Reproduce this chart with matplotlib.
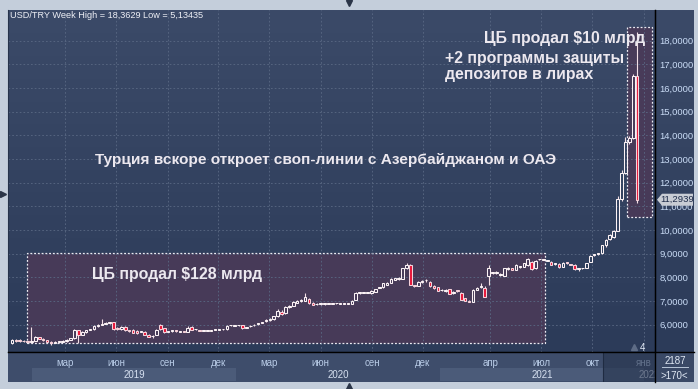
import numpy as np
import pandas as pd
import matplotlib
matplotlib.use("Agg")
import matplotlib.pyplot as plt
import matplotlib.dates as mdates
from matplotlib.patches import Rectangle, Polygon
from matplotlib.lines import Line2D
from matplotlib.colors import LinearSegmentedColormap, to_rgba

plt.rcParams['font.family'] = ['Liberation Sans', 'DejaVu Sans']

# USD/TRY weekly candles
weeks = pd.date_range('2018-11-26', '2021-12-20', freq='W-MON')

opens = [
    5.24, 5.36, 5.35, 5.31, 5.30, 5.29, 5.33, 5.48, 5.42, 5.35,
    5.28, 5.25, 5.27, 5.28, 5.31, 5.37, 5.43, 5.76, 5.58, 5.69,
    5.78, 5.82, 5.95, 5.99, 6.05, 6.07, 6.10, 5.84, 5.82, 5.92,
    5.76, 5.78, 5.74, 5.70, 5.71, 5.57, 5.51, 5.57, 6.00, 5.85,
    5.71, 5.73, 5.74, 5.71, 5.71, 5.71, 5.92, 5.81, 5.77, 5.75,
    5.75, 5.75, 5.78, 5.78, 5.81, 5.82, 5.97, 5.95, 5.97, 5.99,
    5.88, 5.93, 5.98, 6.03, 6.08, 6.14, 6.22, 6.25, 6.35, 6.56,
    6.48, 6.74, 6.80, 6.92, 7.02, 7.02, 7.08, 6.94, 6.86, 6.88,
    6.87, 6.88, 6.88, 6.91, 6.89, 6.89, 6.88, 6.88, 7.05, 7.34,
    7.35, 7.36, 7.33, 7.40, 7.55, 7.58, 7.68, 7.78, 7.90, 7.95,
    7.94, 8.39, 8.53, 7.66, 7.64, 7.82, 7.88, 7.82, 7.64, 7.58,
    7.46, 7.44, 7.50, 7.34, 7.44, 7.36, 7.12, 7.00, 6.98, 7.48,
    7.60, 7.54, 8.06, 8.20, 8.20, 8.10, 8.06, 8.36, 8.39, 8.32,
    8.45, 8.46, 8.53, 8.67, 8.39, 8.76, 8.74, 8.71, 8.67, 8.57,
    8.57, 8.45, 8.63, 8.55, 8.53, 8.35, 8.38, 8.40, 8.67, 8.95,
    8.97, 9.05, 9.35, 9.62, 9.72, 9.97, 11.32, 12.40, 13.72, 13.90, 16.50,
]
highs = [
    5.38, 5.40, 5.38, 5.34, 5.33, 5.92, 5.52, 5.50, 5.45, 5.36,
    5.30, 5.30, 5.31, 5.34, 5.40, 5.46, 5.84, 5.80, 5.72, 5.80,
    5.84, 5.98, 6.05, 6.23, 6.12, 6.12, 6.12, 5.92, 5.95, 5.94,
    5.80, 5.82, 5.77, 5.74, 5.73, 5.60, 5.58, 5.83, 6.02, 5.88,
    5.74, 5.76, 5.76, 5.73, 5.74, 5.95, 5.95, 5.83, 5.79, 5.77,
    5.77, 5.77, 5.80, 5.80, 5.84, 5.98, 6.01, 5.99, 5.99, 6.01,
    5.92, 5.97, 6.02, 6.07, 6.12, 6.24, 6.28, 6.38, 6.65, 6.62,
    6.78, 6.84, 7.00, 7.05, 7.08, 7.33, 7.12, 6.96, 6.90, 6.90,
    6.90, 6.90, 6.91, 6.93, 6.91, 6.91, 6.90, 7.05, 7.40, 7.38,
    7.38, 7.40, 7.46, 7.52, 7.60, 7.77, 7.80, 7.96, 7.98, 8.02,
    8.41, 8.63, 8.56, 7.70, 7.86, 7.90, 7.94, 7.86, 7.66, 7.60,
    7.52, 7.50, 7.52, 7.42, 7.48, 7.38, 7.14, 7.04, 7.50, 7.58,
    7.78, 7.62, 8.53, 8.25, 8.26, 8.18, 8.42, 8.45, 8.42, 8.55,
    8.50, 8.62, 8.82, 8.70, 8.73, 8.80, 8.80, 8.74, 8.70, 8.60,
    8.60, 8.65, 8.66, 8.58, 8.56, 8.38, 8.42, 8.62, 8.93, 8.98,
    9.05, 9.38, 9.62, 9.85, 9.99, 11.45, 12.55, 13.95, 13.98, 16.60, 18.36,
]
lows = [
    5.20, 5.28, 5.28, 5.27, 5.26, 5.25, 5.30, 5.38, 5.32, 5.24,
    5.13, 5.22, 5.24, 5.26, 5.29, 5.35, 5.41, 5.22, 5.55, 5.66,
    5.76, 5.80, 5.92, 5.97, 6.02, 6.04, 5.80, 5.76, 5.80, 5.72,
    5.70, 5.64, 5.62, 5.68, 5.55, 5.47, 5.46, 5.55, 5.78, 5.66,
    5.68, 5.71, 5.71, 5.69, 5.68, 5.69, 5.76, 5.78, 5.73, 5.73,
    5.73, 5.73, 5.76, 5.76, 5.78, 5.80, 5.95, 5.93, 5.94, 5.84,
    5.86, 5.91, 5.96, 6.01, 6.06, 6.12, 6.14, 6.22, 6.33, 6.40,
    6.46, 6.70, 6.78, 6.90, 6.98, 7.00, 6.88, 6.82, 6.84, 6.84,
    6.84, 6.86, 6.86, 6.89, 6.87, 6.87, 6.86, 6.86, 7.03, 7.32,
    7.33, 7.33, 7.32, 7.39, 7.54, 7.56, 7.66, 7.76, 7.88, 7.88,
    7.92, 8.37, 7.66, 7.58, 7.62, 7.78, 7.80, 7.60, 7.52, 7.42,
    7.42, 7.40, 7.28, 7.32, 7.38, 7.04, 7.00, 6.95, 6.96, 7.46,
    7.56, 7.17, 7.68, 8.15, 8.14, 8.04, 8.04, 8.32, 8.30, 8.30,
    8.42, 8.44, 8.50, 8.33, 8.37, 8.73, 8.72, 8.68, 8.51, 8.54,
    8.41, 8.43, 8.58, 8.51, 8.33, 8.28, 8.35, 8.38, 8.65, 8.90,
    8.95, 9.00, 9.30, 9.58, 9.68, 9.95, 11.25, 12.35, 13.65, 13.85, 11.13,
]
closes = [
    5.36, 5.33, 5.31, 5.30, 5.29, 5.33, 5.48, 5.42, 5.35, 5.28,
    5.25, 5.27, 5.28, 5.31, 5.37, 5.43, 5.79, 5.58, 5.69, 5.78,
    5.82, 5.95, 5.99, 6.05, 6.07, 6.08, 5.84, 5.82, 5.92, 5.76,
    5.72, 5.67, 5.65, 5.71, 5.57, 5.50, 5.53, 5.80, 5.81, 5.68,
    5.71, 5.74, 5.73, 5.71, 5.70, 5.88, 5.78, 5.81, 5.75, 5.75,
    5.75, 5.75, 5.78, 5.78, 5.82, 5.95, 5.99, 5.96, 5.97, 5.86,
    5.90, 5.95, 6.00, 6.05, 6.10, 6.20, 6.25, 6.35, 6.58, 6.46,
    6.74, 6.80, 6.98, 7.02, 7.05, 7.16, 6.90, 6.84, 6.88, 6.88,
    6.87, 6.88, 6.89, 6.91, 6.89, 6.89, 6.88, 7.02, 7.36, 7.35,
    7.36, 7.37, 7.44, 7.50, 7.58, 7.75, 7.78, 7.94, 7.96, 7.96,
    8.39, 8.53, 7.68, 7.63, 7.82, 7.83, 7.89, 7.62, 7.54, 7.44,
    7.47, 7.44, 7.30, 7.40, 7.42, 7.06, 7.02, 6.98, 7.47, 7.54,
    7.61, 7.19, 8.39, 8.20, 8.20, 8.10, 8.39, 8.40, 8.32, 8.53,
    8.46, 8.60, 8.77, 8.35, 8.71, 8.77, 8.76, 8.71, 8.53, 8.57,
    8.43, 8.63, 8.61, 8.53, 8.35, 8.35, 8.39, 8.60, 8.91, 8.95,
    9.03, 9.35, 9.60, 9.80, 9.97, 11.32, 12.40, 13.72, 13.90, 16.50, 11.29,
]

y_ticks = list(range(6, 19))
month_ticks = ['2019-03-01', '2019-06-01', '2019-09-01', '2019-12-01',
               '2020-03-01', '2020-06-01', '2020-09-01', '2020-12-01',
               '2021-04-01', '2021-07-01', '2021-10-01', '2022-01-01']
month_labels = ['мар', 'июн', 'сен', 'дек', 'мар', 'июн', 'сен', 'дек',
                'апр', 'июл', 'окт', 'янв']
years = ['2019', '2020', '2021', '2022']
year_starts = ['2019-01-01', '2020-01-01', '2021-01-01', '2022-01-01', '2023-01-01']
last_price = 11.2939

W, H = 698, 389
NAVY_TOP, NAVY_BOT = '#3b4a68', '#2c3b59'
TXT = '#ece8ef'


def d(s):
    return mdates.date2num(pd.Timestamp(s))


def fx(px):
    return px / W


def fy(py):
    return 1 - py / H


def pbox(x0, y0, x1, y1):
    return [fx(x0), fy(y1), fx(x1) - fx(x0), fy(y0) - fy(y1)]


fig = plt.figure(figsize=(W / 100, H / 100), dpi=100, facecolor='#c4cedb')

# gradient background behind chart and price scale
bg = fig.add_axes(pbox(8, 10, 694, 352))
cmap = LinearSegmentedColormap.from_list('bg', [NAVY_TOP, NAVY_BOT])
bg.imshow(np.linspace(0, 1, 256)[:, None], aspect='auto', cmap=cmap, extent=[0, 1, 0, 1])
bg.axis('off')

ax = fig.add_axes(pbox(8, 10, 655, 352))
ax.patch.set_alpha(0)
xlim = (d('2018-11-19'), d('2022-01-21'))
ax.set_xlim(xlim)
ax.set_ylim(4.85, 19.30)

ax.set_yticks(y_ticks)
ax.set_yticklabels([f'{v},0000' for v in y_ticks])
ax.yaxis.tick_right()
ax.tick_params(axis='y', length=0, pad=3, labelsize=6.8, labelcolor='#cadcf6')
ax.set_xticks([d(m) for m in month_ticks])
ax.tick_params(axis='x', length=0, labelbottom=False)
ax.grid(True, color='#5a6984', lw=0.6, ls=(0, (2, 2.5)))
ax.spines['top'].set_visible(False)
ax.spines['left'].set_color('#26334b')
ax.spines['right'].set_color('black')
ax.spines['bottom'].set_color('black')

# highlighted periods
ax.add_patch(Rectangle((d('2018-12-23'), 5.23), d('2021-07-08') - d('2018-12-23'), 9.04 - 5.23,
                       facecolor=to_rgba('#4b3a58', 0.88), edgecolor='#ecebf2', lw=0.9,
                       ls=(0, (1.5, 1.5)), zorder=1))
ax.add_patch(Rectangle((d('2021-12-02'), 10.56), d('2022-01-16') - d('2021-12-02'), 18.59 - 10.56,
                       facecolor=to_rgba('#4b3a58', 0.88), edgecolor='#ecebf2', lw=0.9,
                       ls=(0, (1.5, 1.5)), zorder=1))

# candles
xs = mdates.date2num(weeks)
o, h, l, c = map(np.array, (opens, highs, lows, closes))
lo = np.minimum(o, c)
hi = np.maximum(o, c)
ht = np.maximum(hi - lo, 0.03)
up = c >= o
ax.vlines(xs, l, lo, color='#f2dfe6', lw=0.8, zorder=3)
ax.vlines(xs, hi, h, color='#f2dfe6', lw=0.8, zorder=3)
ax.bar(xs[up], ht[up], bottom=lo[up], width=4.6, facecolor='none',
       edgecolor='#fbf2f5', lw=0.75, zorder=4)
ax.bar(xs[~up], ht[~up], bottom=lo[~up], width=4.6, facecolor='#e8173a',
       edgecolor='#f5d3db', lw=0.75, zorder=4)

# texts
note = dict(fontsize=11.4, fontweight='bold', color=TXT, va='center')
fig.text(fx(10), fy(16), 'USD/TRY Week High = 18,3629 Low = 5,13435', fontsize=6.6,
         color='#eef0f6', va='center')
fig.text(fx(645), fy(38), 'ЦБ продал $10 млрд', ha='right', **note)
fig.text(fx(445), fy(59), '+2 программы защиты', **note)
fig.text(fx(445), fy(74), 'депозитов в лирах', **note)
fig.text(fx(95), fy(160), 'Турция вскоре откроет своп-линии с Азербайджаном и ОАЭ',
         **{**note, 'fontsize': 11.1})
fig.text(fx(92), fy(275), 'ЦБ продал $128 млрд', **note)

# time axis
axb = fig.add_axes(pbox(8, 352, 655, 382))
axb.set_facecolor('#3e4d6b')
axb.set_xlim(xlim)
axb.set_ylim(0, 1)
axb.set_xticks([])
axb.set_yticks([])
for sp in axb.spines.values():
    sp.set_visible(False)
for k, yr in enumerate(years):
    x0, x1 = d(year_starts[k]), d(year_starts[k + 1])
    if k % 2 == 0:
        axb.axvspan(x0, x1, ymin=0.03, ymax=0.48, color='#4b5b79', lw=0)
    cx = (max(x0, xlim[0]) + min(x1, xlim[1])) / 2
    axb.text(cx, 0.24, yr, ha='center', va='center', fontsize=7, color='#d6e0f0')
for m, lab in zip(month_ticks, month_labels):
    axb.text(d(m), 0.64, lab, ha='center', va='center', fontsize=7, color='#b8cbe6')
axb.axvspan(d('2021-10-19'), xlim[1], color='#26334c', alpha=0.6, lw=0, zorder=5)
axb.axvline(d('2021-10-19'), color='#1f2b42', lw=0.8, zorder=6)

# lower right counter panel
fig.add_artist(Rectangle((fx(655), fy(382)), fx(694) - fx(655), fy(352) - fy(382),
                         transform=fig.transFigure, facecolor='#3a4966', lw=0))
fig.text(fx(675), fy(361), '2187', fontsize=7, color='#e0e8f4', ha='center', va='center')
fig.add_artist(Line2D([fx(662), fx(688)], [fy(367), fy(367)], color='#b8c6d8', lw=0.7))
fig.text(fx(674), fy(376), '>170<', fontsize=7, color='#e0e8f4', ha='center', va='center')

# separators
fig.add_artist(Line2D([fx(655), fx(655)], [fy(10), fy(382)], color='black', lw=1))
fig.add_artist(Line2D([fx(8), fx(694)], [fy(352), fy(352)], color='black', lw=1))

# last price marker
py = 41 + (18 - last_price) * 23.667
fig.add_artist(Polygon([[fx(657), fy(py)], [fx(662), fy(py - 6)], [fx(693), fy(py - 6)],
                        [fx(693), fy(py + 6)], [fx(662), fy(py + 6)]],
                       closed=True, transform=fig.transFigure, facecolor='#c8ccd4', lw=0))
fig.text(fx(677), fy(py), f'{last_price:.4f}'.replace('.', ','), fontsize=6.8,
         color='#1c2a48', ha='center', va='center')

# bar counter and splitter handles
fig.text(fx(643), fy(348), '4', fontsize=7, color='#e0e8f4', ha='center', va='center')
fig.add_artist(Line2D([fx(634)], [fy(347)], marker='^', ms=4, color='#5e6c86', lw=0))
for px_, py_, mk in [(349, 3, 'v'), (349, 386, '^'), (3, 194, '>')]:
    fig.add_artist(Line2D([fx(px_)], [fy(py_)], marker=mk, ms=4, color='#2a3447', lw=0))

fig.savefig('out.png', dpi=100, facecolor=fig.get_facecolor())
